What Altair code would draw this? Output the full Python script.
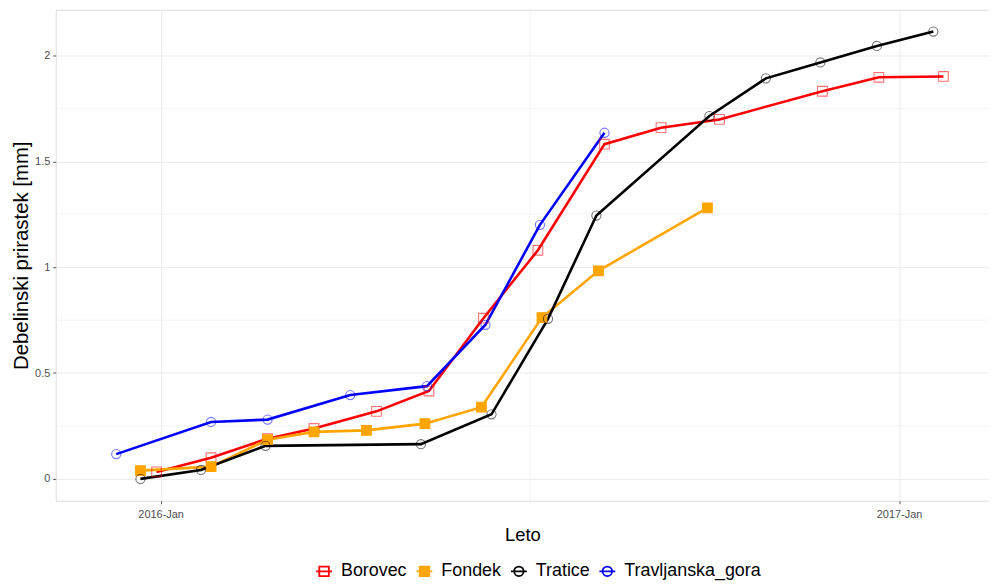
import altair as alt
import pandas as pd

# ---- data ----
borovec_dates = ["2015-12-30", "2016-01-26", "2016-02-23", "2016-03-17", "2016-04-17", "2016-05-13",
                 "2016-06-09", "2016-07-06", "2016-08-08", "2016-09-05", "2016-10-04", "2016-11-24",
                 "2016-12-22", "2017-01-23"]
borovec_vals = [0.033, 0.10, 0.19, 0.238, 0.319, 0.415, 0.759, 1.08, 1.581, 1.659, 1.698, 1.831, 1.897, 1.901]

fondek_dates = ["2015-12-22", "2016-01-26", "2016-02-23", "2016-03-17", "2016-04-12", "2016-05-11",
                "2016-06-08", "2016-07-08", "2016-08-05", "2016-09-28"]
fondek_vals = [0.039, 0.058, 0.185, 0.222, 0.229, 0.261, 0.339, 0.762, 0.983, 1.28]

tratice_dates = ["2015-12-22", "2016-01-21", "2016-02-22", "2016-05-09", "2016-06-13", "2016-07-11",
                 "2016-08-04", "2016-09-29", "2016-10-27", "2016-11-23", "2016-12-21", "2017-01-18"]
tratice_vals = [0.0, 0.042, 0.156, 0.164, 0.305, 0.756, 1.244, 1.714, 1.892, 1.967, 2.045, 2.113]

travlj_dates = ["2015-12-10", "2016-01-26", "2016-02-23", "2016-04-04", "2016-05-12", "2016-06-10",
                "2016-07-07", "2016-08-08"]
travlj_vals = [0.117, 0.269, 0.28, 0.396, 0.438, 0.728, 1.20, 1.635]

series = ["Borovec", "Fondek", "Tratice", "Travljanska_gora"]
colors = ["#FF0000", "#FFA500", "#000000", "#0000FF"]
marker = ["square", "square", "circle", "circle"]
fills = ["transparent", "#FFA500", "transparent", "transparent"]

# legend glyphs: line segment through the marker (as in ggplot legends)
SQ_KEY = "M-1,0H1M-0.6,-0.6H0.6V0.6H-0.6Z"
CI_KEY = "M-1,0H1M0.6,0A0.6,0.6,0,1,1,-0.6,0A0.6,0.6,0,1,1,0.6,0Z"
legend_shapes = [SQ_KEY, SQ_KEY, CI_KEY, CI_KEY]

y_major = [0, 0.5, 1, 1.5, 2]
y_minor = [0.25, 0.75, 1.25, 1.75]
x_minor = ["2016-07-02"]

rows = []
for name, mk, ds, vs in zip(series, marker, [borovec_dates, fondek_dates, tratice_dates, travlj_dates],
                            [borovec_vals, fondek_vals, tratice_vals, travlj_vals]):
    for d, v in zip(ds, vs):
        rows.append({"Lokacija": name, "Marker": mk, "Datum": d, "Prirastek": v})
df = pd.DataFrame(rows)

FONT = "Liberation Sans"

xscale = alt.Scale(type="utc",
                   domain=[alt.DateTime(year=2015, month=11, date=10, utc=True),
                           alt.DateTime(year=2017, month=2, date=14, hours=14, utc=True)])
yscale = alt.Scale(domain=[-0.1033, 2.216], nice=False, zero=False)

xaxis = alt.Axis(title="Leto",
                 values=[alt.DateTime(year=2016, month=1, date=1, utc=True),
                         alt.DateTime(year=2017, month=1, date=1, utc=True)],
                 labelExpr="utcFormat(datum.value, '%Y-%b')",
                 grid=True, gridColor="#EBEBEB", domain=False,
                 tickColor="#555555", tickSize=3, labelColor="#4D4D4D", labelFontSize=11,
                 labelPadding=5, titleFontSize=18.5, titleFontWeight="normal", titleColor="#000000",
                 titlePadding=6)
yaxis = alt.Axis(title="Debelinski prirastek [mm]", values=y_major,
                 labelExpr="toString(datum.value)",
                 grid=True, gridColor="#EBEBEB", domain=False,
                 tickColor="#555555", tickSize=3, labelColor="#4D4D4D", labelFontSize=11,
                 labelPadding=3, titleFontSize=20.5, titleFontWeight="normal", titleColor="#000000",
                 titlePadding=3)

color_scale = alt.Scale(domain=series, range=colors)
fill_scale = alt.Scale(domain=series, range=fills)
key_shape_scale = alt.Scale(domain=series, range=legend_shapes)

legend = alt.Legend(title=None, orient="none", direction="horizontal", legendX=261, legendY=556,
                    labelFontSize=18, labelFont=FONT, labelColor="#000000", symbolSize=256,
                    symbolStrokeWidth=1.8, columnPadding=5, labelOffset=8, symbolOffset=0)

ymin_df = pd.DataFrame({"v": y_minor})
xmin_df = pd.DataFrame({"d": x_minor})

base = alt.Chart(df).encode(
    x=alt.X("Datum:T", scale=xscale, axis=xaxis),
    y=alt.Y("Prirastek:Q", scale=yscale, axis=yaxis),
)

# legend-only layer (draws nothing: every row filtered out); first so its legend settings win
keys = base.transform_filter("false").mark_point(opacity=1).encode(
    color=alt.Color("Lokacija:N", scale=color_scale, legend=legend),
    fill=alt.Fill("Lokacija:N", scale=fill_scale, legend=legend),
    shape=alt.Shape("Lokacija:N", scale=key_shape_scale, legend=legend),
)

minor_y = alt.Chart(ymin_df).mark_rule(color="#F4F4F4", strokeWidth=1).encode(
    y=alt.Y("v:Q", scale=yscale, axis=yaxis))
minor_x = alt.Chart(xmin_df).mark_rule(color="#F4F4F4", strokeWidth=1).encode(
    x=alt.X("d:T", scale=xscale, axis=xaxis))

lines = base.mark_line(strokeWidth=2.6).encode(
    color=alt.Color("Lokacija:N", scale=color_scale, legend=None),
    detail="Lokacija:N",
)

squares = base.transform_filter(alt.datum.Marker == "square").mark_point(
    shape="square", size=95, strokeWidth=1.1, opacity=1).encode(
    color=alt.Color("Lokacija:N", scale=color_scale, legend=None),
    fill=alt.Fill("Lokacija:N", scale=fill_scale, legend=None),
    strokeOpacity=alt.condition(alt.datum.Lokacija == "Fondek", alt.value(1), alt.value(0.55)),
)

circles = base.transform_filter(alt.datum.Marker == "circle").mark_point(
    shape="circle", size=85, strokeWidth=1.1, opacity=1, strokeOpacity=0.55).encode(
    color=alt.Color("Lokacija:N", scale=color_scale, legend=None),
    fill=alt.Fill("Lokacija:N", scale=fill_scale, legend=None),
)

chart = alt.layer(keys, minor_y, minor_x, lines, squares, circles).properties(
    width=939, height=494,
    autosize=alt.AutoSizeParams(type="none"),
    padding={"left": 48, "top": 0, "right": 0, "bottom": 83},
).configure_view(stroke="#7F7F7F", strokeWidth=1).configure(font=FONT)

chart.save("out.html", embed_options={"renderer": "svg", "actions": False})
